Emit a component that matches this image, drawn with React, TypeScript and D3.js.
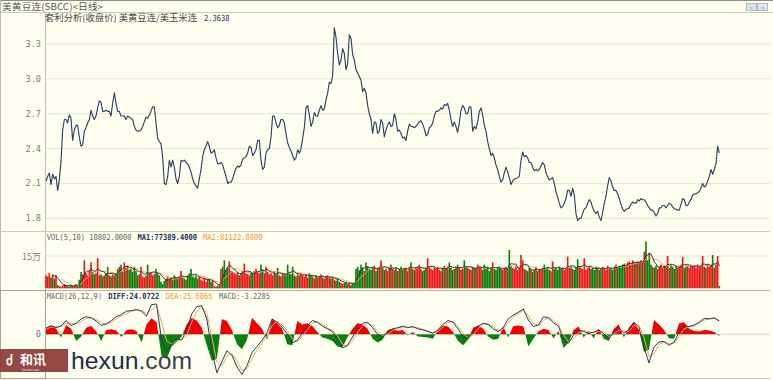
import React from 'react';
import * as d3 from 'd3';

// ---------- data ----------
const priceTicks = [1.8, 2.1, 2.4, 2.7, 3.0, 3.3];
const priceTickLabels = ['1.8', '2.1', '2.4', '2.7', '3.0', '3.3'];

// ratio 美黄豆连/美玉米连 (close)
const price = [
  2.12,2.16,2.19,2.09,2.18,2.14,2.16,2.04,2.13,2.29,
  2.56,2.65,2.65,2.62,2.69,2.66,2.47,2.56,2.60,2.60,
  2.50,2.42,2.43,2.55,2.58,2.62,2.65,2.73,2.68,2.65,
  2.68,2.75,2.81,2.80,2.72,2.72,2.73,2.72,2.72,2.68,
  2.79,2.88,2.79,2.72,2.72,2.68,2.68,2.68,2.65,2.68,
  2.67,2.66,2.65,2.59,2.56,2.55,2.55,2.56,2.59,2.63,
  2.67,2.66,2.69,2.72,2.76,2.76,2.62,2.49,2.46,2.44,
  2.33,2.10,2.09,2.16,2.30,2.24,2.30,2.24,2.14,2.10,
  2.16,2.30,2.29,2.30,2.28,2.27,2.24,2.20,2.14,2.10,
  2.08,2.06,2.14,2.22,2.33,2.39,2.42,2.46,2.42,2.36,
  2.37,2.39,2.32,2.27,2.27,2.28,2.26,2.21,2.16,2.10,
  2.11,2.11,2.14,2.19,2.23,2.25,2.24,2.26,2.31,2.32,
  2.33,2.36,2.42,2.41,2.34,2.36,2.39,2.47,2.47,2.30,
  2.22,2.24,2.36,2.39,2.40,2.50,2.68,2.68,2.62,2.58,
  2.60,2.65,2.65,2.62,2.53,2.45,2.41,2.38,2.34,2.30,
  2.32,2.39,2.36,2.40,2.49,2.58,2.75,2.77,2.69,2.59,
  2.63,2.71,2.68,2.68,2.73,2.77,2.73,2.74,2.82,2.88,
  2.97,2.96,3.03,3.44,3.36,3.22,3.12,3.16,3.26,3.22,
  3.08,3.13,3.38,3.35,3.21,3.16,3.08,3.05,3.02,2.99,
  2.89,2.92,2.88,2.77,2.70,2.65,2.53,2.63,2.62,2.53,
  2.55,2.65,2.62,2.50,2.56,2.60,2.63,2.59,2.60,2.70,
  2.65,2.55,2.56,2.53,2.49,2.50,2.47,2.55,2.61,2.59,
  2.59,2.58,2.59,2.61,2.63,2.64,2.61,2.57,2.51,2.52,
  2.58,2.59,2.62,2.68,2.72,2.72,2.73,2.75,2.74,2.78,
  2.77,2.79,2.73,2.65,2.59,2.63,2.59,2.54,2.62,2.73,
  2.77,2.75,2.70,2.70,2.76,2.76,2.55,2.59,2.57,2.63,
  2.72,2.75,2.69,2.60,2.55,2.46,2.40,2.34,2.36,2.32,
  2.26,2.22,2.16,2.11,2.13,2.19,2.24,2.20,2.15,2.09,
  2.12,2.14,2.14,2.15,2.16,2.30,2.37,2.33,2.34,2.32,
  2.28,2.28,2.24,2.21,2.22,2.21,2.22,2.25,2.28,2.26,
  2.19,2.16,2.13,2.14,2.15,2.10,2.03,1.98,1.93,1.89,
  1.90,1.93,1.97,2.04,2.04,1.99,2.06,2.00,1.84,1.78,
  1.80,1.80,1.84,1.88,1.89,1.93,1.96,1.94,1.89,1.86,
  1.84,1.86,1.81,1.78,1.85,1.93,1.99,2.08,2.15,2.12,
  2.07,2.04,2.04,2.01,1.97,1.92,1.88,1.86,1.88,1.88,
  1.89,1.92,1.94,1.93,1.93,1.96,1.95,1.97,1.96,1.96,
  1.94,1.91,1.89,1.87,1.87,1.85,1.82,1.84,1.89,1.89,
  1.91,1.91,1.89,1.91,1.93,1.92,1.90,1.88,1.88,1.87,
  1.87,1.92,1.97,1.96,1.91,1.91,1.94,1.96,2.00,2.01,
  2.01,2.02,2.03,2.06,2.10,2.07,2.08,2.12,2.16,2.22,
  2.18,2.22,2.27,2.42,2.36,
];

// volume, in thousands of lots
const volume = [
  60,55,70,50,65,45,60,15,10,8,
  12,20,15,10,8,12,10,15,20,10,
  40,75,65,130,70,60,80,120,75,65,
  70,140,60,65,55,60,70,100,60,55,
  65,60,70,90,100,110,80,120,95,105,
  85,90,75,100,80,60,65,100,55,50,
  60,110,70,75,60,65,90,70,60,30,
  20,35,45,55,45,50,40,60,50,45,
  55,80,50,45,40,60,70,90,55,50,
  60,45,55,40,35,50,30,45,40,30,
  35,10,8,12,15,90,100,130,85,95,
  125,80,75,70,65,75,60,70,80,115,
  70,65,60,75,70,80,90,75,70,110,
  85,70,100,75,65,70,60,75,65,95,
  60,55,70,65,60,110,70,65,100,60,
  55,65,60,70,60,55,65,50,70,60,
  55,45,60,50,55,65,50,45,55,60,
  50,45,50,40,35,45,30,25,20,25,
  30,20,25,15,20,25,90,100,85,110,
  95,80,120,100,90,85,95,105,80,90,
  100,130,95,85,90,80,100,110,90,85,
  95,80,90,100,85,95,90,80,100,120,
  90,85,95,100,110,90,80,85,95,140,
  100,90,85,95,90,100,85,80,95,105,
  90,100,120,95,85,90,100,110,95,85,
  90,130,100,95,90,85,100,95,90,110,
  100,95,85,110,90,100,80,95,120,90,
  85,95,100,90,85,95,100,90,178,105,
  95,90,100,85,95,155,130,90,85,80,
  95,90,75,85,100,80,90,85,95,110,
  90,100,85,80,125,90,95,85,100,90,
  95,85,90,147,95,100,90,85,95,135,
  100,95,90,140,85,95,100,90,95,85,
  100,95,85,90,100,95,85,105,90,95,
  85,100,110,95,105,100,110,115,105,120,
  125,110,130,120,115,125,120,130,125,170,
  217,130,165,110,100,95,105,90,100,110,
  95,105,100,150,95,110,100,90,105,95,
  100,110,145,95,100,105,95,110,100,105,
  95,110,100,105,150,100,95,110,100,105,
  155,95,110,150,10.8,
];

// MACD(26,12,9)
const diff = [
  11,16,12,15,25,16,20,28,32,30,
  24,16,19,25,32,36,42,43,45,42,
  33,54,55,-10,-31,-17,-8,-10,8,37,
  50,52,28,-29,-70,-50,-30,-38,-59,-73,
  -57,-33,-22,-11,3,28,22,13,1,-16,
  -11,2,15,25,22,15,10,5,-10,-25,
  -20,-5,10,20,22,12,0,-5,5,10,
  12,15,12,14,10,8,5,2,8,18,
  25,22,10,-5,-8,5,15,20,18,10,
  5,12,28,35,40,46,26,14,17,32,
  30,21,15,-12,-16,-1,8,5,2,4,
  8,1,-8,3,12,2,8,22,13,-23,
  -52,-23,-14,-13,-20,-14,4,15,14,17,
  22,29,28,30,24.07,
];
const dea = [
  9,13,14,14,20,19,19,24,29,30,
  27,20,18,22,28,33,38,42,44,43,
  38,44,52,22,-12,-18,-12,-10,-2,22,
  42,50,38,-5,-50,-58,-40,-35,-48,-66,
  -63,-45,-28,-16,-3,16,24,17,7,-8,
  -13,-4,8,20,23,18,12,7,-3,-18,
  -22,-12,3,15,21,16,5,-3,0,7,
  11,13,13,13,12,9,6,3,5,13,
  22,23,15,2,-6,-1,10,18,19,14,
  7,9,20,32,38,43,34,20,16,25,
  31,25,17,-1,-14,-8,3,7,3,3,
  6,4,-4,0,8,6,5,16,17,-5,
  -40,-36,-18,-14,-17,-16,-4,10,14,15,
  20,26,28,29,25.69,
];
const macdHist = [
  12,15,10,-6,17,10,-12,-4,12,15,
  5,-12,8,9,7,-5,8,9,6,-15,
  18,29,22,-40,-45,-22,-14,-4,18,30,
  25,12,-20,-48,-45,28,24,8,-18,-27,
  -10,30,20,10,-10,28,20,10,-18,-20,
  24,18,20,15,4,-6,-8,-12,-22,-24,
  -5,10,20,18,10,-8,-15,-10,8,10,
  6,8,-2,4,-4,-5,-6,-8,8,16,
  14,4,-12,-20,-10,12,16,10,-4,-10,
  -8,14,-6,15,16,14,-22,-8,5,10,
  8,-7,6,-25,-15,8,14,-6,6,-7,
  10,-8,-12,10,18,-6,12,23,8,-32,
  -28,26,18,8,-7,-8,20,22,10,6,
  5,8,7,4,-3.23,
];

// ---------- layout ----------
const W = 773;
const H = 380;
const X0 = 46;
const X1 = 719.3;
const RIGHT = 770;
const MONO = "'DejaVu Sans Mono', 'Liberation Mono', monospace";
const CJK = "'Noto Sans CJK SC', 'Noto Sans', sans-serif";
const CW = 4.25;
const SEG_FS = 8.4;
const SX = CW / (0.602 * SEG_FS);

function Seg({ x, y, text, fill, bold }: { x: number; y: number; text: string; fill: string; bold?: boolean }) {
  return (
    <g transform={`translate(${x},${y}) scale(${SX},1)`}>
      <text x={0} y={0} fontFamily={MONO} fontSize={SEG_FS} fill={fill} fontWeight={bold ? 'bold' : 'normal'}>
        {text}
      </text>
    </g>
  );
}

export default function App() {
  const xP = d3.scaleLinear().domain([0, price.length - 1]).range([X0, X1]);
  const yP = d3.scaleLinear().domain([1.8, 3.3]).range([218.3, 44]);
  const pricePath = d3.line<number>().x((_, i) => xP(i)).y((d) => yP(d))(price) || '';

  const xV = d3.scaleLinear().domain([0, volume.length - 1]).range([X0, X1]);
  const yV = d3.scaleLinear().domain([0, 150]).range([288.3, 256]);
  const bw = (X1 - X0) / (volume.length - 1);
  const ma = (n: number) =>
    volume.map((_, i) => (i < n - 1 ? null : (d3.mean(volume.slice(i - n + 1, i + 1)) as number)));
  const ma5 = ma(5);
  const ma10 = ma(10);
  const maLine = d3
    .line<number | null>()
    .defined((d) => d != null)
    .x((_, i) => xV(i))
    .y((d) => yV(d as number));

  const xM = d3.scaleLinear().domain([0, diff.length - 1]).range([X0, X1]);
  const yM = d3.scaleLinear().domain([-80, 80]).range([378.3, 290.3]);
  const histArea = d3.area<number>().x((_, i) => xM(i)).y0(yM(0)).y1((d) => yM(d))(macdHist) || '';
  const diffPath = d3.line<number>().x((_, i) => xM(i)).y((d) => yM(d))(diff) || '';
  const deaPath = d3.line<number>().x((_, i) => xM(i)).y((d) => yM(d))(dea) || '';

  const grid = '#e6e6d8';
  const sep = '#c9c9bf';
  const axisText = '#7b7b7b';

  return (
    <svg width={W} height={H} style={{ position: 'fixed', left: 0, top: 0, display: 'block' }}>
      <defs>
        <clipPath id="up">
          <rect x={0} y={290} width={W} height={yM(0) - 290} />
        </clipPath>
        <clipPath id="down">
          <rect x={0} y={yM(0)} width={W} height={380 - yM(0)} />
        </clipPath>
      </defs>
      <rect x={0} y={0} width={W} height={H} fill="#FFFFF0" />

      {/* frame */}
      <line x1={0} x2={W} y1={0.5} y2={0.5} stroke="#8a8a8a" />
      <line x1={0} x2={W} y1={12.5} y2={12.5} stroke={sep} />
      <line x1={0.5} x2={0.5} y1={0} y2={378.5} stroke="#b8b8b0" />
      <line x1={45.5} x2={45.5} y1={12.5} y2={378.5} stroke="#c4c4bc" strokeWidth={1.2} />
      <line x1={0} x2={RIGHT} y1={231.5} y2={231.5} stroke={sep} />
      <line x1={0} x2={RIGHT} y1={290.5} y2={290.5} stroke="#b5b5ad" />
      <line x1={0} x2={RIGHT} y1={378.5} y2={378.5} stroke={sep} />
      <rect x={0.5} y={290.5} width={45} height={88} fill="none" stroke="#a5a5a0" />

      {/* top title */}
      <text x={2} y={9.5} fontFamily={CJK} fontSize={8.8} fill="#555" textLength={101} lengthAdjust="spacingAndGlyphs">
        美黄豆连(SBCC)&lt;日线&gt;
      </text>
      <rect x={746.5} y={3.5} width={10} height={7} fill="#dce7f0" stroke="#a9bccd" />
      <rect x={757.5} y={3.5} width={10} height={7} fill="#dce7f0" stroke="#a9bccd" />
      <text x={751.5} y={9.5} fontSize={7} textAnchor="middle" fill="#7f9bb6" fontFamily={MONO}>←</text>
      <text x={762.5} y={9.5} fontSize={7} textAnchor="middle" fill="#7f9bb6" fontFamily={MONO}>→</text>

      {/* main panel */}
      {priceTicks.map((t, k) => (
        <g key={t}>
          <line x1={46} x2={RIGHT} y1={yP(t)} y2={yP(t)} stroke={grid} />
          <text x={41} y={yP(t) + 3} textAnchor="end" fontFamily={MONO} fontSize={8.6} fill={axisText}>
            {priceTickLabels[k]}
          </text>
        </g>
      ))}
      <text x={45} y={20.5} fontFamily={CJK} fontSize={9} fill="#444" textLength={152} lengthAdjust="spacingAndGlyphs">
        套利分析(收盘价) 美黄豆连/美玉米连
      </text>
      <Seg x={204} y={20.5} text="2.3638" fill="#1d2f5c" />
      <path d={pricePath} fill="none" stroke="#2d4262" strokeWidth={1.15} strokeLinejoin="round" />

      {/* volume panel */}
      <line x1={46} x2={RIGHT} y1={yV(150)} y2={yV(150)} stroke={grid} />
      <text x={41} y={yV(150) + 3.5} textAnchor="end" fontFamily={CJK} fontSize={9} fill={axisText}>15万</text>
      <Seg x={46.7} y={239.5} text="VOL(5,10) 10802.0000" fill="#666" />
      <Seg x={137.5} y={239.5} text="MA1:77389.4000" fill="#1d2f5c" bold />
      <Seg x={203} y={239.5} text="MA2:81122.8000" fill="#f0962a" />
      {volume.map((v, i) => {
        const p = price[Math.min(i, price.length - 1)];
        const pp = price[Math.max(0, Math.min(i, price.length - 1) - 1)];
        const up = p >= pp;
        return (
          <rect key={i} x={xV(i) - bw / 2} y={yV(v)} width={bw} height={yV(0) - yV(v)}
            fill={up ? '#ee1a1a' : '#0f7f0f'} />
        );
      })}
      <path d={maLine(ma10) || ''} fill="none" stroke="#f3a040" strokeWidth={0.9} />
      <path d={maLine(ma5) || ''} fill="none" stroke="#1d2a44" strokeWidth={0.9} />

      {/* MACD panel */}
      <line x1={46} x2={RIGHT} y1={yM(0)} y2={yM(0)} stroke="#dcdcd0" />
      <text x={41} y={yM(0) + 3} textAnchor="end" fontFamily={MONO} fontSize={8.6} fill={axisText}>0</text>
      <Seg x={46.7} y={298.5} text="MACD(26,12,9)" fill="#666" />
      <Seg x={108.3} y={298.5} text="DIFF:24.0722" fill="#1d2f5c" bold />
      <Seg x={165.7} y={298.5} text="DEA:25.6865" fill="#f0962a" />
      <Seg x={219} y={298.5} text="MACD:-3.2285" fill="#666" />
      <path d={histArea} fill="#f00000" clipPath="url(#up)" />
      <path d={histArea} fill="#0a800a" clipPath="url(#down)" />
      <path d={deaPath} fill="none" stroke="#eda760" strokeWidth={1} />
      <path d={diffPath} fill="none" stroke="#2b3a5c" strokeWidth={1} />

      {/* watermark */}
      <rect x={0} y={349} width={68} height={23} fill="#8c3a34" opacity={0.92} />
      <text x={6} y={365} fontFamily={CJK} fontSize={13} fontWeight="bold" fill="#fff">ძ</text>
      <text x={20} y={364} fontFamily={CJK} fontSize={13} fontWeight="bold" fill="#fff">和讯</text>
      <text x={22} y={371} fontFamily="'Liberation Sans', sans-serif" fontSize={3.5} fill="#f3dcdc">hexun.com</text>
      <text x={71} y={369} fontFamily="'Liberation Sans', Arial, sans-serif" fontSize={24} textLength={121} lengthAdjust="spacingAndGlyphs">
        <tspan fill="#1f2c4d">hexun</tspan>
        <tspan fill="#3b4252">.com</tspan>
      </text>
    </svg>
  );
}
